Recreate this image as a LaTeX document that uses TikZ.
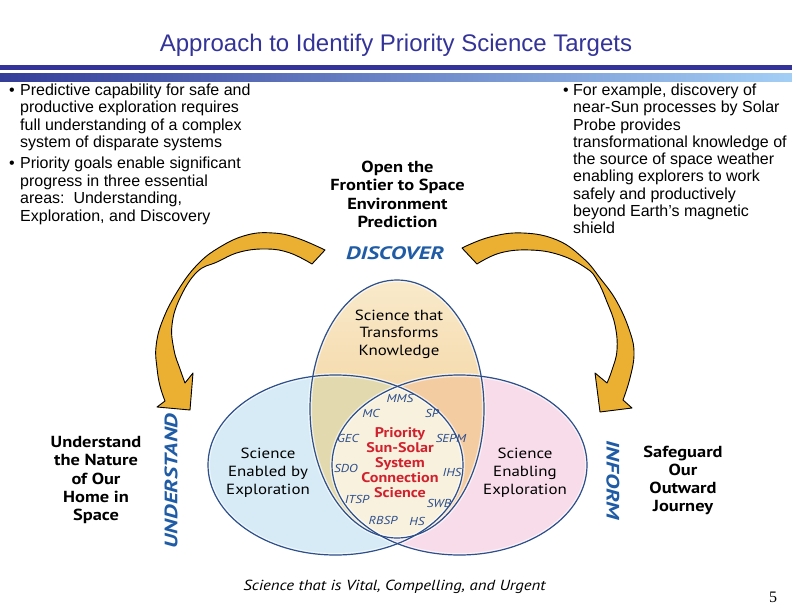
\documentclass[tikz,border=0pt]{standalone}
\usepackage{fontspec}
\setmainfont{Liberation Sans}
\newfontfamily\labfont[FakeStretch=1.15]{PT Sans}
\newfontfamily\verbfont[FakeStretch=1.3]{PT Sans}
\newfontfamily\numfont{Liberation Serif}
\definecolor{titleblue}{HTML}{333399}
\definecolor{bardark}{HTML}{333399}
\definecolor{barleft}{HTML}{343D98}
\definecolor{barright}{HTML}{A3CEF5}
\definecolor{arrowgold}{HTML}{EBB032}
\definecolor{verbblue}{HTML}{1F5CA5}
\definecolor{missionblue}{HTML}{2B4C8C}
\definecolor{redtext}{HTML}{D1202E}
\definecolor{vennline}{HTML}{2D4F8B}
\definecolor{bluefill}{HTML}{D6EBF6}
\definecolor{pinkfill}{HTML}{F8DCEA}
\definecolor{lavfill}{HTML}{E6DDEE}
\definecolor{topA}{HTML}{F9EACB}
\definecolor{topB}{HTML}{EFC483}
\definecolor{greenfill}{HTML}{E2D9AE}
\definecolor{orangefill}{HTML}{F4CCA2}
\definecolor{creamfill}{HTML}{F7F1DD}
\begin{document}
\begin{tikzpicture}[x=1pt,y=-1pt,
  bodytext/.style={font=\fontsize{16}{17.4}\selectfont, inner sep=0pt, align=left, anchor=base west},
  venntext/.style={font=\labfont\fontsize{14.7}{17.6}\selectfont, inner sep=0pt, align=center},
  goaltext/.style={font=\labfont\bfseries\fontsize{16}{18.2}\selectfont, inner sep=0pt, align=center},
  verbtext/.style={font=\verbfont\bfseries\itshape\fontsize{18}{20}\selectfont, text=verbblue, inner sep=0pt},
  mission/.style={font=\labfont\itshape\fontsize{11.5}{12}\selectfont, text=missionblue, inner sep=0pt},
  redtxt/.style={font=\labfont\bfseries\fontsize{14}{15}\selectfont, text=redtext, inner sep=0pt, align=center},
  goldarrow/.style={fill=arrowgold, draw=black, line width=0.9pt, line join=round},
  vennedge/.style={draw=vennline, line width=1.2pt},
  vennglow/.style={draw=white, line width=4pt, opacity=0.6}
]
\useasboundingbox (0,0) rectangle (792,612);
\fill[white] (0,0) rectangle (792,612);

% title and bars
\node[font=\fontsize{24}{28}\selectfont, text=titleblue, inner sep=0pt, anchor=base] (title) at (396,51.7) {Approach to Identify Priority Science Targets};
\fill[bardark] (0,65.5) rectangle (792,70.5);
\shade[left color=barleft, right color=barright] (0,73.5) rectangle (792,82);

% bullet texts (anchor = baseline of last line)
\node[bodytext] (lb1) at (9,147.7) {\makebox[11pt][l]{\textbullet}Predictive capability for safe and\\\hspace*{11pt}productive exploration requires\\\hspace*{11pt}full understanding of a complex\\\hspace*{11pt}system of disparate systems};
\node[bodytext] (lb2) at (9,221.2) {\makebox[11pt][l]{\textbullet}Priority goals enable significant\\\hspace*{11pt}progress in three essential\\\hspace*{11pt}areas:\ \ Understanding,\\\hspace*{11pt}Exploration, and Discovery};
\node[bodytext, font=\fontsize{16}{17.3}\selectfont] (rb1) at (563,233.9) {\makebox[10pt][l]{\textbullet}For example, discovery of\\\hspace*{10pt}near-Sun processes by Solar\\\hspace*{10pt}Probe provides\\\hspace*{10pt}transformational knowledge of\\\hspace*{10pt}the source of space weather\\\hspace*{10pt}enabling explorers to work\\\hspace*{10pt}safely and productively\\\hspace*{10pt}beyond Earth's magnetic\\\hspace*{10pt}shield};

% Venn fills
\fill[bluefill] (335.5,465) ellipse [x radius=127.5, y radius=90];
\fill[pinkfill] (459.5,465) ellipse [x radius=127.5, y radius=90];
\begin{scope}
  \clip (335.5,465) ellipse [x radius=127.5, y radius=90];
  \fill[lavfill] (459.5,465) ellipse [x radius=127.5, y radius=90];
\end{scope}
\shade[top color=topA, bottom color=topB, middle color=topA!50!topB] (397,409) ellipse [x radius=87, y radius=129];
\begin{scope}
  \clip (397,409) ellipse [x radius=87, y radius=129];
  \fill[greenfill] (335.5,465) ellipse [x radius=127.5, y radius=90];
  \fill[orangefill] (459.5,465) ellipse [x radius=127.5, y radius=90];
  \clip (335.5,465) ellipse [x radius=127.5, y radius=90];
  \fill[creamfill] (459.5,465) ellipse [x radius=127.5, y radius=90];
\end{scope}
% Venn outlines
\draw[vennglow] (335.5,465) ellipse [x radius=127.5, y radius=90];
\draw[vennglow] (459.5,465) ellipse [x radius=127.5, y radius=90];
\draw[vennglow] (397,409) ellipse [x radius=87, y radius=129];
\draw[vennedge] (335.5,465) ellipse [x radius=127.5, y radius=90];
\draw[vennedge] (459.5,465) ellipse [x radius=127.5, y radius=90];
\draw[vennedge] (397,409) ellipse [x radius=87, y radius=129];

% arrows
\filldraw[goldarrow] plot[smooth, tension=0.7] coordinates {(325,250) (297,238) (273,233) (247,235) (220,247) (197,265) (177,292) (162,322) (156,347) (157,368) (160,386) (165,401)}
  -- (157,407) -- (190,410) -- (193,373) -- (185,383)
  -- plot[smooth, tension=0.7] coordinates {(185,383) (180,369) (174,350) (172,325) (180,298) (197,272) (217,262) (240,252) (267,249) (290,253) (312,264)} -- cycle;
\filldraw[goldarrow] plot[smooth, tension=0.7] coordinates {(462,248) (490,237) (523,233) (557,240) (583,258) (600,278) (617,302) (630,332) (634,354) (630,378) (623,400)}
  -- (632,408) -- (600,412) -- (595,373) -- (607,383)
  -- plot[smooth, tension=0.7] coordinates {(607,383) (612,370) (617,350) (615,325) (607,302) (597,280) (586,268) (560,255) (530,250) (500,253) (477,264)} -- cycle;

% labels
\node[goaltext] (open) at (397.5,194.5) {Open the\\Frontier to Space\\Environment\\Prediction};
\node[verbtext] (discover) at (395,253) {DISCOVER};
\node[verbtext, rotate=90] (understand) at (171,481) {UNDERSTAND};
\node[verbtext, rotate=-90] (inform) at (613,480) {INFORM};
\node[goaltext] (home) at (96,480) {Understand\\the Nature\\of Our\\Home in\\Space};
\node[goaltext] (safe) at (683,480.5) {Safeguard\\Our\\Outward\\Journey};

\node[venntext] (transform) at (399,334.3) {Science that\\Transforms\\Knowledge};
\node[venntext] (enabled) at (268,472.7) {Science\\Enabled by\\Exploration};
\node[venntext] (enabling) at (525,472.7) {Science\\Enabling\\Exploration};
\node[redtxt] (priority) at (400,463) {Priority\\Sun-Solar\\System\\Connection\\Science};

\node[mission] (mms) at (400,398) {MMS};
\node[mission] (mc) at (371,413) {MC};
\node[mission] (sp) at (432,413) {SP};
\node[mission] (gec) at (348,438) {GEC};
\node[mission] (sepm) at (451,438) {SEPM};
\node[mission] (sdo) at (346,468) {SDO};
\node[mission] (ihs) at (452,472) {IHS};
\node[mission] (itsp) at (357,499) {ITSP};
\node[mission] (swb) at (439,503) {SWB};
\node[mission] (rbsp) at (383,520) {RBSP};
\node[mission] (hs) at (417,521.5) {HS};

\node[font=\labfont\itshape\fontsize{14.6}{17}\selectfont, inner sep=0pt] (vital) at (394.5,587) {Science that is Vital, Compelling, and Urgent};
\node[font=\numfont\fontsize{16}{18}\selectfont, inner sep=0pt] (pagenum) at (773,597) {5};
\end{tikzpicture}
\end{document}
